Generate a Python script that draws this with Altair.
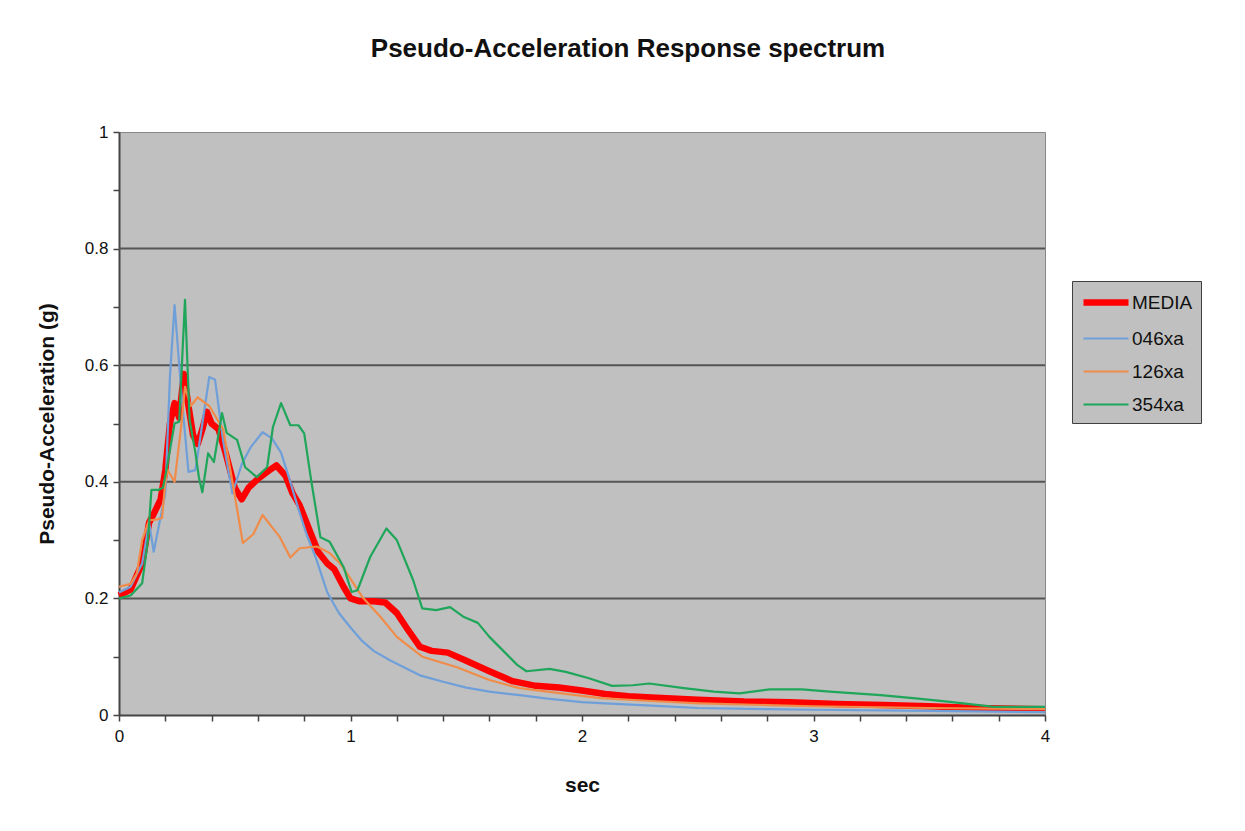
import altair as alt
import pandas as pd

# ---- data ----
media_x = [0, 0.05, 0.1, 0.13, 0.15, 0.18, 0.2, 0.22, 0.24, 0.26, 0.28, 0.3, 0.32, 0.34, 0.36, 0.38, 0.4,
           0.43, 0.46, 0.5, 0.53, 0.56, 0.6, 0.65, 0.68, 0.72, 0.75, 0.78, 0.82, 0.86, 0.9, 0.93, 0.97, 1.0,
           1.04, 1.1, 1.15, 1.2, 1.25, 1.3, 1.35, 1.42, 1.5, 1.6, 1.7, 1.8, 1.9, 2.0, 2.1, 2.2, 2.3, 2.5,
           2.7, 2.9, 3.1, 3.3, 3.5, 3.7, 4.0]
media_y = [0.205, 0.215, 0.26, 0.33, 0.345, 0.37, 0.42, 0.50, 0.535, 0.51, 0.585, 0.53, 0.48, 0.465, 0.49,
           0.52, 0.50, 0.49, 0.45, 0.39, 0.37, 0.39, 0.405, 0.42, 0.428, 0.41, 0.38, 0.36, 0.32, 0.28, 0.26,
           0.25, 0.22, 0.20, 0.195, 0.195, 0.193, 0.175, 0.145, 0.117, 0.11, 0.107, 0.093, 0.075, 0.058,
           0.05, 0.047, 0.042, 0.036, 0.032, 0.03, 0.026, 0.023, 0.022, 0.019, 0.017, 0.015, 0.012, 0.01]

a046_x = [0, 0.05, 0.1, 0.13, 0.15, 0.2, 0.22, 0.24, 0.27, 0.3, 0.33, 0.36, 0.39, 0.415, 0.45, 0.49, 0.53,
          0.57, 0.62, 0.66, 0.7, 0.74, 0.77, 0.81, 0.85, 0.9, 0.95, 1.0, 1.05, 1.1, 1.17, 1.25, 1.3, 1.4,
          1.5, 1.6, 1.73, 1.85, 2.0, 2.1, 2.3, 2.5, 2.8, 3.0, 3.5, 4.0]
a046_y = [0.21, 0.22, 0.26, 0.33, 0.28, 0.38, 0.58, 0.703, 0.55, 0.417, 0.42, 0.50, 0.58, 0.575, 0.47,
          0.38, 0.43, 0.46, 0.485, 0.475, 0.45, 0.40, 0.36, 0.31, 0.27, 0.21, 0.175, 0.15, 0.127, 0.11,
          0.094, 0.078, 0.068, 0.057, 0.047, 0.04, 0.034, 0.028, 0.022, 0.02, 0.016, 0.012, 0.01, 0.009,
          0.007, 0.005]

a126_x = [0, 0.05, 0.077, 0.1, 0.13, 0.16, 0.186, 0.2, 0.21, 0.24, 0.27, 0.285, 0.31, 0.34, 0.39, 0.45,
          0.49, 0.535, 0.58, 0.62, 0.665, 0.695, 0.74, 0.78, 0.855, 0.91, 0.955, 0.985, 1.05, 1.13, 1.2,
          1.31, 1.46, 1.6, 1.73, 1.85, 2.08, 2.3, 2.51, 2.8, 3.0, 3.5, 4.0]
a126_y = [0.22, 0.225, 0.243, 0.30, 0.334, 0.335, 0.338, 0.40, 0.42, 0.40, 0.50, 0.563, 0.53, 0.545, 0.53,
          0.49, 0.40, 0.295, 0.31, 0.343, 0.32, 0.305, 0.27, 0.286, 0.289, 0.278, 0.26, 0.243, 0.203,
          0.168, 0.134, 0.10, 0.082, 0.06, 0.046, 0.04, 0.029, 0.024, 0.02, 0.017, 0.015, 0.012, 0.01]

a354_x = [0, 0.05, 0.1, 0.125, 0.14, 0.17, 0.19, 0.205, 0.24, 0.26, 0.285, 0.305, 0.33, 0.345, 0.36,
          0.385, 0.41, 0.445, 0.465, 0.51, 0.545, 0.595, 0.64, 0.665, 0.70, 0.74, 0.775, 0.80, 0.83, 0.87,
          0.91, 0.97, 1.005, 1.03, 1.085, 1.155, 1.2, 1.27, 1.31, 1.37, 1.43, 1.49, 1.55, 1.6, 1.72, 1.76,
          1.86, 1.93, 2.03, 2.13, 2.22, 2.29, 2.44, 2.57, 2.68, 2.81, 2.95, 3.07, 3.29, 3.43, 3.58, 3.78,
          4.0]
a354_y = [0.20, 0.205, 0.226, 0.30, 0.386, 0.386, 0.39, 0.42, 0.50, 0.503, 0.712, 0.506, 0.45, 0.408,
          0.382, 0.449, 0.434, 0.518, 0.484, 0.472, 0.425, 0.408, 0.425, 0.494, 0.535, 0.497, 0.497, 0.483,
          0.403, 0.305, 0.297, 0.254, 0.211, 0.214, 0.271, 0.32, 0.30, 0.232, 0.183, 0.18, 0.185, 0.168,
          0.158, 0.134, 0.086, 0.075, 0.079, 0.074, 0.063, 0.05, 0.051, 0.054, 0.046, 0.04, 0.037, 0.044,
          0.044, 0.04, 0.034, 0.029, 0.023, 0.014, 0.014]

series_names = ["MEDIA", "046xa", "126xa", "354xa"]
series_colors = ["#ff0000", "#6f9fd9", "#f08c4a", "#1fa65a"]
series_widths = [6.5, 2.2, 2.2, 2.2]

x_ticks = [0, 0.2, 0.4, 0.6, 0.8, 1, 1.2, 1.4, 1.6, 1.8, 2, 2.2, 2.4, 2.6, 2.8, 3, 3.2, 3.4, 3.6, 3.8, 4]
y_ticks = [0, 0.05, 0.1, 0.15, 0.2, 0.25, 0.3, 0.35, 0.4, 0.45, 0.5, 0.55, 0.6, 0.65, 0.7, 0.75, 0.8,
           0.85, 0.9, 0.95, 1]
grid_y = [0.2, 0.4, 0.6, 0.8]

frames = []
for name, xs, ys in [("MEDIA", media_x, media_y), ("046xa", a046_x, a046_y),
                     ("126xa", a126_x, a126_y), ("354xa", a354_x, a354_y)]:
    frames.append(pd.DataFrame({"sec": xs, "acc": ys, "series": name}))
df = pd.concat(frames, ignore_index=True)
grid_df = pd.DataFrame({"g": grid_y})

FONT = "Liberation Sans"

x_scale = alt.Scale(domain=[0, 4], nice=False, zero=False)
y_scale = alt.Scale(domain=[0, 1], nice=False)

legend = alt.Legend(title=None, orient="none", legendX=953, legendY=149,
                    symbolType="M-1,0H3.5", symbolSize=400,
                    fillColor="#c0c0c0", strokeColor="#404040",
                    padding=8, labelFontSize=19, labelFont=FONT,
                    labelColor="#111111", labelOffset=25, rowPadding=11)

grid = alt.Chart(grid_df).mark_rule(color="#555555", strokeWidth=2).encode(
    y=alt.Y("g:Q", scale=y_scale)
)

base = alt.Chart(df).mark_line(strokeJoin="round", strokeCap="butt").encode(
    x=alt.X("sec:Q", scale=x_scale,
            axis=alt.Axis(values=x_ticks, title="sec", format="~g",
                          labelExpr="datum.value % 1 == 0 ? datum.label : ''",
                          labelFlush=False, labelOverlap=False, grid=False,
                          tickSize=6, labelPadding=7, titlePadding=30)),
    y=alt.Y("acc:Q", scale=y_scale,
            axis=alt.Axis(values=y_ticks, title="Pseudo-Acceleration (g)", format="~g",
                          labelExpr="(datum.value == 0 || datum.value == 0.2 || datum.value == 0.4 || datum.value == 0.6 || datum.value == 0.8 || datum.value == 1) ? datum.label : ''",
                          labelOverlap=False, grid=False,
                          tickSize=6, labelPadding=5, titlePadding=27)),
    color=alt.Color("series:N", scale=alt.Scale(domain=series_names, range=series_colors),
                    legend=legend),
    strokeWidth=alt.StrokeWidth("series:N",
                                scale=alt.Scale(type="ordinal", domain=series_names, range=series_widths),
                                legend=legend),
)

layers = [grid] + [base.transform_filter(alt.datum.series == n) for n in series_names]

chart = alt.layer(*layers).properties(
    width=926,
    height=583,
    padding={"left": 28, "top": 28, "right": 5, "bottom": 5},
    background="white",
    title=alt.TitleParams("Pseudo-Acceleration Response spectrum", fontSize=26, font=FONT,
                          fontWeight="bold", color="#111111", anchor="middle", offset=61, dx=46),
).configure_view(
    fill="#c0c0c0", stroke="#888888", strokeWidth=1
).configure_axis(
    labelFont=FONT, labelFontSize=17, labelColor="#111111",
    titleFont=FONT, titleFontSize=21, titleFontWeight="bold", titleColor="#111111",
    domainColor="#444444", domainWidth=2, tickColor="#444444", tickWidth=1.5,
)

chart.save("out.html", embed_options={"renderer": "svg", "actions": False})
